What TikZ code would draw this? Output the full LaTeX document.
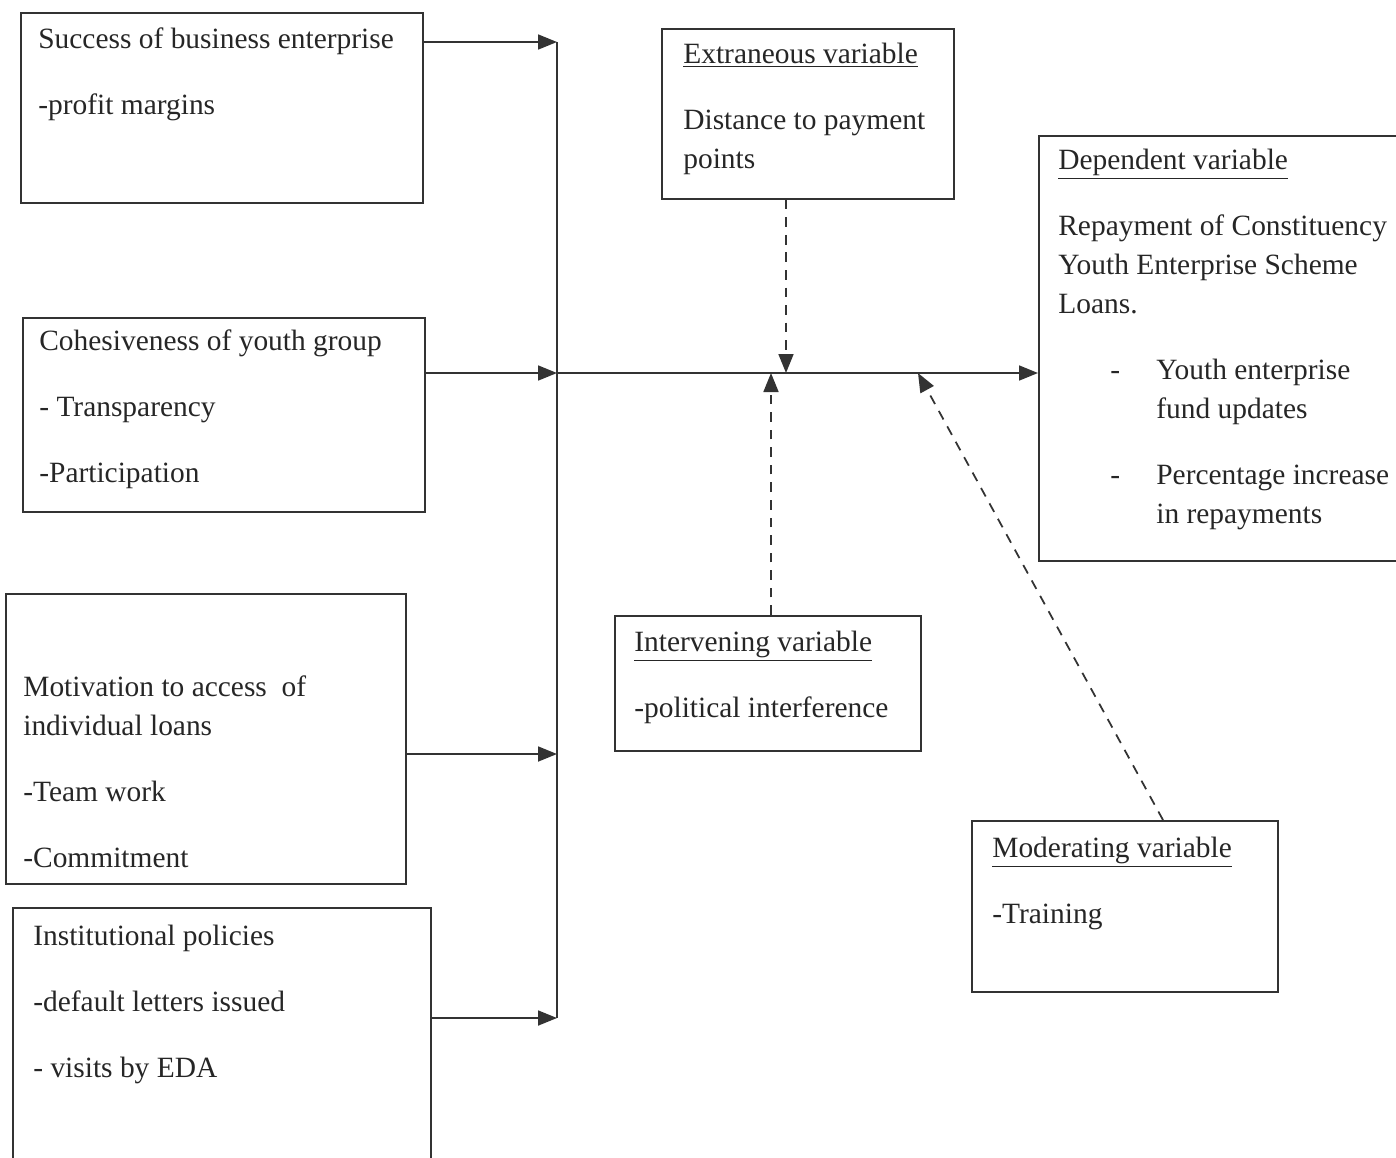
\documentclass[tikz,border=0pt]{standalone}
\usepackage{fontspec}
\setmainfont{Liberation Serif}
\usetikzlibrary{arrows.meta}

\begin{document}
\begin{tikzpicture}[x={(0.02cm,0)}, y={(0,-0.02cm)},
  box/.style={draw=black!80, line width=1pt, inner sep=0pt, anchor=north west},
  txt/.style={anchor=north west, inner sep=0pt, align=left, text=black!85,
    font=\fontsize{16.75}{22.2}\selectfont},
  arr/.style={draw=black!80, line width=1pt, -{Triangle[length=0.38cm,width=0.3cm]}},
  darr/.style={arr, dash pattern=on 5.5pt off 4.5pt}]

\useasboundingbox (0,0) rectangle (1396,1157);

% we draw the boxes on the left
\node[box, minimum width=8.04cm, minimum height=3.8cm] (succ) at (20,12) {};
\node[txt] (succT) at (38,27) {Success of business enterprise\\[0.54cm]-profit margins};

\node[box, minimum width=8.04cm, minimum height=3.88cm] (coh) at (22,317) {};
\node[txt] (cohT) at (39,329) {Cohesiveness of youth group\\[0.54cm]- Transparency\\[0.54cm]-Participation};

\node[box, minimum width=8cm, minimum height=5.8cm] (mot) at (5,593) {};
\node[txt] (motT) at (23,675) {Motivation to access\ \ of\\individual loans\\[0.54cm]-Team work\\[0.54cm]-Commitment};

\node[box, minimum width=8.36cm, minimum height=5.3cm] (inst) at (12,907) {};
\node[txt] (instT) at (33,925) {Institutional policies\\[0.54cm]-default letters issued\\[0.54cm]- visits by EDA};

% the boxes in the middle
\node[box, minimum width=5.84cm, minimum height=3.4cm] (ext) at (661,28) {};
\node[txt] (extT) at (683,43) {\underline{Extraneous variable}\\[0.54cm]Distance to payment\\points};

\node[box, minimum width=6.12cm, minimum height=2.7cm] (int) at (614,615) {};
\node[txt] (intT) at (634,631) {\underline{Intervening variable}\\[0.54cm]-political interference};

\node[box, minimum width=6.12cm, minimum height=3.42cm] (mod) at (971,820) {};
\node[txt] (modT) at (992,837) {\underline{Moderating variable}\\[0.54cm]-Training};

% dependent variable
\node[box, minimum width=7.64cm, minimum height=8.5cm] (dep) at (1038,135) {};
\node[txt] (depT) at (1058,149) {\underline{Dependent variable}\\[0.54cm]Repayment of Constituency\\Youth Enterprise Scheme\\Loans.\\[0.54cm]
  \hspace*{1.04cm}\makebox[0.92cm][l]{-}Youth enterprise\\\hspace*{1.96cm}fund updates\\[0.54cm]
  \hspace*{1.04cm}\makebox[0.92cm][l]{-}Percentage increase\\\hspace*{1.96cm}in repayments};

% the bus line
\coordinate (bs) at (557,42);
\coordinate (bc) at (557,373);
\coordinate (bm) at (557,754);
\coordinate (bi) at (557,1018);
\draw[draw=black!80, line width=1pt] (bs) -- (bi);

\draw[arr] (succ.east |- bs) -- (bs);
\draw[arr] (coh.east |- bc) -- (bc);
\draw[arr] (mot.east |- bm) -- (bm);
\draw[arr] (inst.east |- bi) -- (bi);

% main line to the dependent variable
\draw[arr] (bc) -- (dep.west |- bc);

% dashed influences
\coordinate (pe) at (786,373);
\coordinate (pi) at (771,373);
\coordinate (pm) at (918,373);
\coordinate (qm) at (1163,820);
\draw[darr] (ext.south -| pe) -- (pe);
\draw[darr] (int.north -| pi) -- (pi);
\draw[darr] (qm) -- (pm);

\end{tikzpicture}
\end{document}
